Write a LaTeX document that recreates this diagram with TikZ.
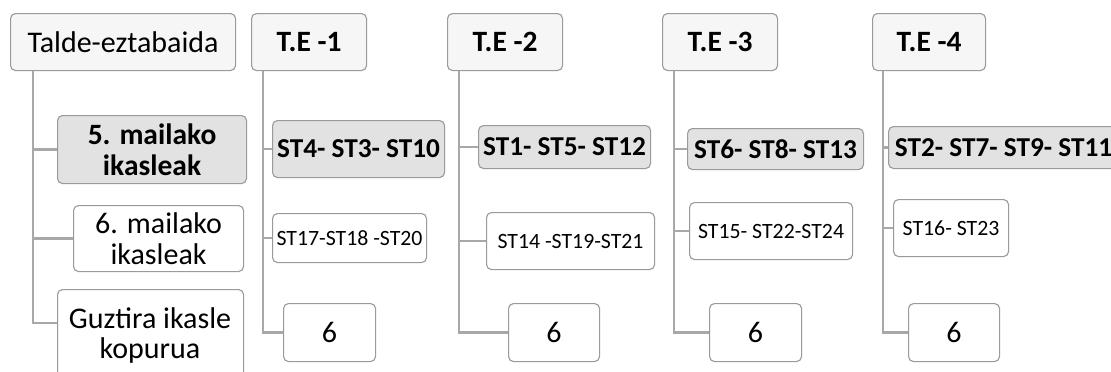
\documentclass[tikz,border=0pt]{standalone}
\usepackage{fontspec}
\setmainfont{Carlito}
\definecolor{edge}{HTML}{9A9A9A}
\definecolor{linkgray}{HTML}{A8A8A8}
\definecolor{headfill}{HTML}{F6F6F6}
\definecolor{keyfill}{HTML}{E2E2E2}
\tikzset{
  box/.style={draw=edge, line width=1.1pt, rounded corners=5pt, inner sep=0pt,
    align=center, text=black, anchor=north west},
  head/.style={box, fill=headfill},
  keybox/.style={box, fill=keyfill, font=\bfseries},
  plain/.style={box, fill=white},
  big/.style={font=\fontsize{30}{31}\selectfont},
  bigb/.style={font=\fontsize{29.5}{31}\selectfont\bfseries},
  midb/.style={font=\fontsize{27.3}{30}\selectfont\bfseries},
  small/.style={font=\fontsize{21.8}{24}\selectfont},
  link/.style={draw=linkgray, line width=2.6pt},
}
\begin{document}
\begin{tikzpicture}[x=1pt, y=-1pt]
\useasboundingbox (0,0) rectangle (1111,372);
\clip (0,0) rectangle (1111,372);
\fill[white] (0,0) rectangle (1111,372);

% left column: legend
\node[head, big, minimum width=225pt, minimum height=57pt] (root) at (10,13) {Talde-eztabaida};
\node[keybox, bigb, minimum width=189pt, minimum height=68pt] (r1) at (57,115) {5. mailako\\ikasleak};
\node[plain, big, minimum width=170pt, minimum height=66pt] (r2) at (73,205) {6. mailako\\ikasleak};
\node[plain, minimum width=186pt, minimum height=100pt] (r3) at (57,289) {};
\node[big, anchor=base] (r3l1) at (150,328) {Guztira ikasle};
\node[big, anchor=base] (r3l2) at (150,358) {kopurua};

\draw[link] ([xshift=23pt]root.south west) |- (r1.west);
\draw[link] ([xshift=23pt]root.south west) |- (r2.west);
\draw[link] ([xshift=23pt]root.south west) |- ([yshift=-34pt]r3.north west);

% group T.E -1
\node[head, bigb, minimum width=115pt, minimum height=57pt] (g1) at (251,13) {T.E -1};
\node[keybox, midb, minimum width=172pt, minimum height=57pt] (g1a) at (272,120) {ST4- ST3- ST10};
\node[plain, small, minimum width=154pt, minimum height=49pt] (g1b) at (272,213) {ST17-ST18 -ST20};
\node[plain, big, minimum width=92pt, minimum height=58pt] (g1c) at (283,303) {6};
\foreach \t in {g1a,g1b,g1c}
  \draw[link] ([xshift=12pt]g1.south west) |- (\t.west);

% group T.E -2
\node[head, bigb, minimum width=115pt, minimum height=57pt] (g2) at (447,13) {T.E -2};
\node[keybox, midb, minimum width=172pt, minimum height=43pt] (g2a) at (478,125) {ST1- ST5- ST12};
\node[plain, small, minimum width=168pt, minimum height=57pt] (g2b) at (486,212) {ST14 -ST19-ST21};
\node[plain, big, minimum width=91pt, minimum height=58pt] (g2c) at (508,303) {6};
\foreach \t in {g2a,g2b,g2c}
  \draw[link] ([xshift=12pt]g2.south west) |- (\t.west);

% group T.E -3
\node[head, bigb, minimum width=115pt, minimum height=57pt] (g3) at (662,13) {T.E -3};
\node[keybox, midb, minimum width=176pt, minimum height=41pt] (g3a) at (687,128) {ST6- ST8- ST13};
\node[plain, small, minimum width=163pt, minimum height=57pt] (g3b) at (689,202) {ST15- ST22-ST24};
\node[plain, big, minimum width=92pt, minimum height=58pt] (g3c) at (709,303) {6};
\foreach \t in {g3a,g3b,g3c}
  \draw[link] ([xshift=12pt]g3.south west) |- (\t.west);

% group T.E -4
\node[head, bigb, minimum width=113pt, minimum height=57pt] (g4) at (872,13) {T.E -4};
\node[keybox, midb, minimum width=230pt, minimum height=42pt] (g4a) at (888,126) {ST2- ST7- ST9- ST11};
\node[plain, small, minimum width=115pt, minimum height=57pt] (g4b) at (893,199) {ST16- ST23};
\node[plain, big, minimum width=91pt, minimum height=58pt] (g4c) at (908,303) {6};
\foreach \t in {g4a,g4b,g4c}
  \draw[link] ([xshift=11pt]g4.south west) |- (\t.west);
\end{tikzpicture}
\end{document}
